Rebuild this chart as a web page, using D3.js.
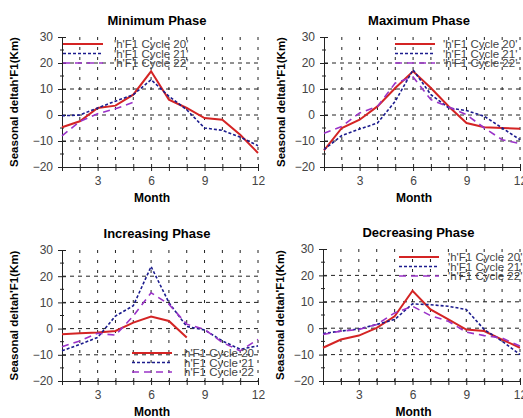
<!DOCTYPE html>
<html><head><meta charset="utf-8">
<script src="https://cdn.jsdelivr.net/npm/d3@7"></script>
<style>body{margin:0;background:#fff}svg{display:block}</style>
</head><body>
<svg id="c" width="523" height="418"></svg>
<script>
const months = [1,2,3,4,5,6,7,8,9,10,11,12];
const titles = ["Minimum Phase","Maximum Phase","Increasing Phase","Decreasing Phase"];
const seriesNames = ["'h'F1 Cycle 20'","'h'F1 Cycle 21'","'h'F1 Cycle 22'"];
const seriesNamesInc = ["h'F1 Cycle 20","h'F1 Cycle 21","h'F1 Cycle 22"];
const xTicks = [3,6,9,12];
const yTicks = [-20,-10,0,10,20,30];

// Minimum phase
const minC20 = [-4.7,-2.4,2.7,3.6,7.8,16.8,5.9,2.7,-1.2,-1.8,-7.6,-14.6];
const minC21 = [-0.3,0,2.7,5.3,7.8,13.6,7.2,2.0,-5.0,-5.9,-8.5,-11.8];
const minC22 = [-8.0,-2.5,0.5,2.4,4.9];
// Maximum phase
const maxC20 = [-13.6,-5.0,-1.8,3.3,10.4,16.8,10.4,3.3,-3.1,-4.7,-5.0,-5.3];
const maxC21 = [-13.3,-7.9,-5.4,-3.1,5.3,17.4,7.8,2.7,1.7,-0.5,-5.0,-9.5];
const maxC22 = [-7.0,-4.4,0.8,3.3,12.3,14.6,5.9,3.1,0.1,-5.0,-9.5,-11.0];
// Increasing phase
const incC20 = [-2.2,-1.8,-1.5,-0.9,2.3,4.6,2.9,-3.4];
const incC21 = [-8.5,-6.0,-3.4,4.8,8.7,23.7,9.9,0.8,-0.5,-4.7,-7.9,-6.6];
const incC22 = [-6.9,-4.7,-1.8,-2.5,4.8,13.7,9.3,1.7,-0.3,-5.3,-8.5,-4.1];
// Decreasing phase
const decC20 = [-7.4,-4.3,-2.8,0.1,4.5,14.2,7.1,3.3,-0.5,-1.1,-4.3,-7.4];
const decC21 = [-2.0,-1.1,-0.3,1.4,3.3,9.2,8.9,8.3,7.1,-0.5,-4.9,-10.0];
const decC22 = [-2.4,-1.1,-0.5,1.4,5.8,8.3,4.8,2.6,-1.5,-2.8,-3.7,-6.8];

const colors = ["#d42424","#1c1c8e","#9a33c8"];
const dashes = [null,"3,2","7,5"];
const widths = [2,1.6,1.6];

const panels = [
  {title:titles[0], data:[minC20,minC21,minC22], names:seriesNames, x0:62, x1:258, yt:37, yb:167, legend:{x:63, y:44, tx:114}},
  {title:titles[1], data:[maxC20,maxC21,maxC22], names:seriesNames, x0:324, x1:520, yt:37, yb:167, legend:{x:395, y:44, tx:443}},
  {title:titles[2], data:[incC20,incC21,incC22], names:seriesNamesInc, x0:62, x1:258, yt:250, yb:381, legend:{x:132, y:353, tx:184}},
  {title:titles[3], data:[decC20,decC21,decC22], names:seriesNames, x0:323, x1:520, yt:249, yb:381, legend:{x:399, y:257, tx:448}}
];

const svg = d3.select("#c");
const font = "Liberation Sans, Arial, sans-serif";

panels.forEach((p,pi) => {
  const x = d3.scaleLinear().domain([1,12]).range([p.x0,p.x1]);
  const y = d3.scaleLinear().domain([-20,30]).range([p.yb,p.yt]);
  const g = svg.append("g");

  // grid
  g.selectAll(".vg").data(months.slice(1)).join("line")
    .attr("x1",d=>x(d)).attr("x2",d=>x(d)).attr("y1",p.yt).attr("y2",p.yb)
    .attr("stroke","#222").attr("stroke-width",1).attr("stroke-dasharray","3,7");
  g.selectAll(".hg").data([-10,0,10,20]).join("line")
    .attr("x1",p.x0).attr("x2",p.x1).attr("y1",d=>y(d)).attr("y2",d=>y(d))
    .attr("stroke","#222").attr("stroke-width",1).attr("stroke-dasharray","4,4");

  // axes
  const xa = g.append("g").attr("transform",`translate(0,${p.yb})`)
    .call(d3.axisBottom(x).tickValues(months).tickSize(4).tickFormat(d=>xTicks.includes(d)?d:""));
  xa.select(".domain").attr("stroke","#222");
  xa.selectAll(".tick line").attr("y1",-3).attr("stroke","#222");
  xa.selectAll("text").attr("font-family",font).attr("font-size",12).attr("fill","#444").attr("dy","0.9em");

  const ya = g.append("g").attr("transform",`translate(${p.x0},0)`)
    .call(d3.axisLeft(y).tickValues(yTicks).tickSize(4).tickPadding(5));
  ya.select(".domain").attr("stroke","#222");
  ya.selectAll(".tick line").attr("x1",-4).attr("x2",4).attr("stroke","#222");
  ya.selectAll("text").attr("font-family",font).attr("font-size",12).attr("fill","#444");

  // minor y ticks
  g.selectAll(".my").data([-15,-5,5,15,25]).join("line")
    .attr("x1",p.x0-2).attr("x2",p.x0+2).attr("y1",d=>y(d)).attr("y2",d=>y(d))
    .attr("stroke","#222");

  // lines
  const line = d3.line().x((d,i)=>x(months[i])).y(d=>y(d));
  p.data.forEach((s,si) => {
    g.append("path").datum(s).attr("d",line).attr("fill","none")
      .attr("stroke",colors[si]).attr("stroke-width",widths[si])
      .attr("stroke-dasharray",dashes[si]);
  });

  // legend
  p.names.forEach((n,si) => {
    const ly = p.legend.y + si*9.5;
    g.append("line").attr("x1",p.legend.x).attr("x2",p.legend.x+40).attr("y1",ly).attr("y2",ly)
      .attr("stroke",colors[si]).attr("stroke-width",widths[si]).attr("stroke-dasharray",dashes[si]);
    g.append("text").attr("x",p.legend.tx).attr("y",ly+4).text(n)
      .attr("font-family",font).attr("font-size",11.5).attr("fill","#444");
  });

  // titles
  g.append("text").attr("x",(p.x0+p.x1)/2 - 3).attr("y",p.yt-12).attr("text-anchor","middle")
    .attr("font-family",font).attr("font-weight","bold").attr("font-size",13).text(p.title);
  g.append("text").attr("x",(p.x0+p.x1)/2 - 8).attr("y",p.yb+35).attr("text-anchor","middle")
    .attr("font-family",font).attr("font-weight","bold").attr("font-size",12).text("Month");
  const lx = p.x0 - (pi%2===0 ? 44 : 39);
  const lyc = (p.yt+p.yb)/2;
  g.append("text").attr("transform",`translate(${lx},${lyc}) rotate(-90)`).attr("text-anchor","middle")
    .attr("font-family",font).attr("font-weight","bold").attr("font-size",11.5).text("Seasonal deltah'F1(Km)");
});
</script>
</body></html>
